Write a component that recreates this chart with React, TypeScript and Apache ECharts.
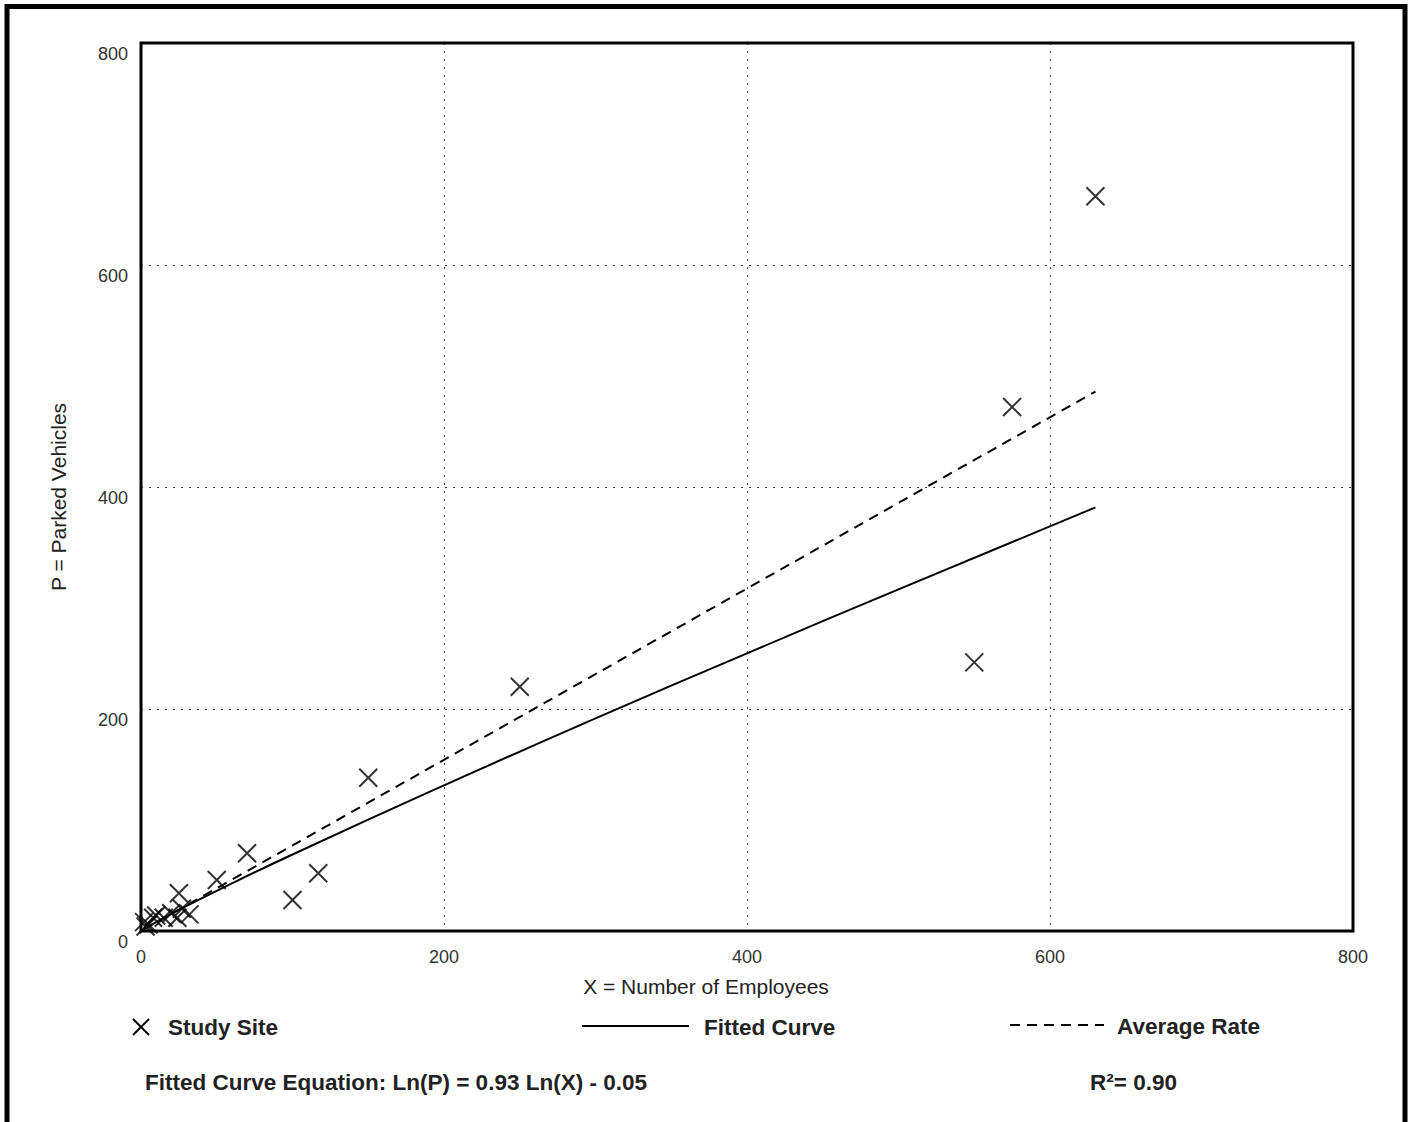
import React, { useEffect, useRef } from "react";
import * as echarts from "echarts";

const xTicks = [0, 200, 400, 600, 800];
const yTicks = [0, 200, 400, 600, 800];

// Study sites: [employees, parked vehicles]
const studySites: [number, number][] = [
  [2, 8], [3, 4], [5, 6], [8, 12], [10, 14], [15, 12], [20, 16], [24, 12],
  [27, 20], [32, 15], [25, 34], [50, 46], [70, 70], [100, 28], [117, 52],
  [150, 138], [250, 220], [550, 242], [575, 472], [630, 662],
];

// Fitted curve points: Ln(P) = 0.93 Ln(X) - 0.05
const fittedCurve: [number, number][] = [
  [2, 1.8], [10, 8.1], [25, 19], [50, 36.2], [100, 68.9], [200, 131.2],
  [300, 191.5], [400, 250.1], [500, 307.8], [630, 381.6],
];

// Average rate line
const averageRate: [number, number][] = [
  [2, 1.5], [630, 486],
];

const xTitle = "X = Number of Employees";
const yTitle = "P = Parked Vehicles";
const equationText = "Fitted Curve Equation: Ln(P) = 0.93 Ln(X) - 0.05";
const r2Text = "R\u00B2= 0.90";
const legendLabels = ["Study Site", "Fitted Curve", "Average Rate"];

const FONT = "'Liberation Sans', Arial, Helvetica, sans-serif";

export default function App() {
  const ref = useRef<HTMLDivElement>(null);

  useEffect(() => {
    if (!ref.current) return;
    const chart = echarts.init(ref.current, undefined, { renderer: "svg" });
    const legendText = {
      fill: "#222",
      font: `bold 22.5px ${FONT}`,
      verticalAlign: "middle" as const,
    };
    const titleText = {
      fill: "#222",
      font: `21px ${FONT}`,
      align: "center" as const,
      verticalAlign: "middle" as const,
    };
    chart.setOption({
      animation: false,
      backgroundColor: "#fff",
      textStyle: { fontFamily: FONT },
      grid: {
        left: 141,
        top: 43,
        width: 1212,
        height: 888,
        show: true,
        borderColor: "#000",
        borderWidth: 3,
        backgroundColor: "transparent",
        z: 3,
      },
      xAxis: {
        type: "value",
        min: xTicks[0],
        max: xTicks[xTicks.length - 1],
        interval: 200,
        axisLine: { show: false },
        axisTick: { show: false },
        axisLabel: { color: "#333", fontSize: 18, margin: 17, fontFamily: FONT },
        splitLine: { show: true, lineStyle: { color: "#444", width: 1, type: [2, 6] } },
      },
      yAxis: {
        type: "value",
        min: yTicks[0],
        max: yTicks[yTicks.length - 1],
        interval: 200,
        axisLine: { show: false },
        axisTick: { show: false },
        axisLabel: {
          color: "#333",
          fontSize: 18,
          margin: 13,
          verticalAlign: "top",
          padding: [2, 0, 0, 0],
          fontFamily: FONT,
        },
        splitLine: { show: true, lineStyle: { color: "#444", width: 1, type: [2, 6] } },
      },
      series: [
        {
          name: legendLabels[0],
          type: "scatter",
          data: studySites,
          symbol: "path://M0,0L20,20M20,0L0,20",
          symbolSize: 18,
          itemStyle: { color: "none", borderColor: "#000", borderWidth: 2 },
          z: 4,
        },
        {
          name: legendLabels[1],
          type: "line",
          data: fittedCurve,
          showSymbol: false,
          smooth: true,
          lineStyle: { color: "#000", width: 2, type: "solid" },
          z: 4,
        },
        {
          name: legendLabels[2],
          type: "line",
          data: averageRate,
          showSymbol: false,
          lineStyle: { color: "#000", width: 2, type: [10, 7] },
          z: 4,
        },
      ],
      graphic: [
        {
          type: "rect",
          shape: { x: 7, y: 6.5, width: 1398, height: 1300 },
          style: { fill: "none", stroke: "#000", lineWidth: 5 },
          z: 10,
        },
        { type: "text", x: 706, y: 986, style: { ...titleText, text: xTitle } },
        {
          type: "text",
          x: 58,
          y: 497,
          rotation: Math.PI / 2,
          style: { ...titleText, text: yTitle },
        },
        {
          type: "line",
          shape: { x1: 133, y1: 1019, x2: 149, y2: 1035 },
          style: { stroke: "#000", lineWidth: 2 },
        },
        {
          type: "line",
          shape: { x1: 133, y1: 1035, x2: 149, y2: 1019 },
          style: { stroke: "#000", lineWidth: 2 },
        },
        { type: "text", x: 168, y: 1027, style: { ...legendText, text: legendLabels[0] } },
        {
          type: "line",
          shape: { x1: 582, y1: 1026, x2: 689, y2: 1026 },
          style: { stroke: "#000", lineWidth: 2 },
        },
        { type: "text", x: 704, y: 1027, style: { ...legendText, text: legendLabels[1] } },
        {
          type: "line",
          shape: { x1: 1010, y1: 1025, x2: 1104, y2: 1025 },
          style: { stroke: "#000", lineWidth: 2, lineDash: [10, 7] },
        },
        { type: "text", x: 1117, y: 1026, style: { ...legendText, text: legendLabels[2] } },
        { type: "text", x: 145, y: 1082, style: { ...legendText, text: equationText } },
        { type: "text", x: 1090, y: 1082, style: { ...legendText, text: r2Text } },
      ],
    });
    return () => chart.dispose();
  }, []);

  return (
    <div
      ref={ref}
      style={{ position: "fixed", left: 0, top: 0, width: 1408, height: 1122, background: "#fff" }}
    />
  );
}
